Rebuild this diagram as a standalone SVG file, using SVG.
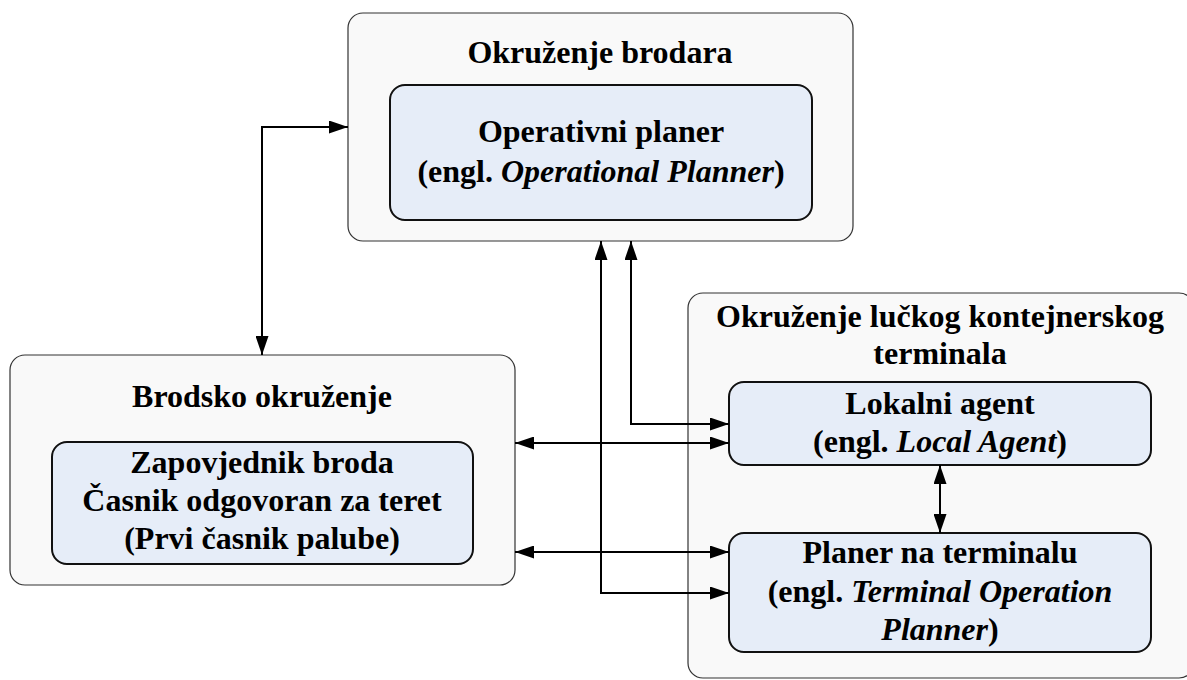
<svg xmlns="http://www.w3.org/2000/svg" width="1187" height="680" viewBox="0 0 1187 680">
<style>
.outer{fill:#f9f9f9;stroke:#333;stroke-width:1.2}
.inner{fill:#e6edf8;stroke:#111;stroke-width:2}
text{font-family:"Liberation Serif","Times New Roman",serif;font-weight:bold;font-size:32px;fill:#000;text-anchor:middle}
.it{font-style:italic}
.conn{fill:none;stroke:#000;stroke-width:2}
</style>
<defs>
<marker id="ah" markerUnits="userSpaceOnUse" markerWidth="19" markerHeight="13" refX="19" refY="6.5" orient="auto-start-reverse">
<path d="M0,0 L19,6.5 L0,13 z" fill="#000"/>
</marker>
</defs>
<rect width="1187" height="680" fill="#ffffff"/>
<g id="okruzenje-brodara">
<rect class="outer" x="348" y="13" width="505" height="228" rx="15"/>
<text x="600" y="63">Okruženje brodara</text>
</g>
<g id="operativni-planer">
<rect class="inner" x="390" y="85" width="422" height="135" rx="15"/>
<text x="601" y="142">Operativni planer</text>
<text x="601" y="182">(engl. <tspan class="it">Operational Planner</tspan>)</text>
</g>
<g id="brodsko-okruzenje">
<rect class="outer" x="10" y="355" width="505" height="230" rx="15"/>
<text x="262" y="407">Brodsko okruženje</text>
</g>
<g id="zapovjednik">
<rect class="inner" x="52" y="442" width="421" height="122" rx="15"/>
<text x="262" y="473">Zapovjednik broda</text>
<text x="262" y="511">Časnik odgovoran za teret</text>
<text x="262" y="549">(Prvi časnik palube)</text>
</g>
<g id="okruzenje-terminala">
<rect class="outer" x="688" y="293" width="506" height="385" rx="15"/>
<text x="940" y="327">Okruženje lučkog kontejnerskog</text>
<text x="940" y="364">terminala</text>
</g>
<g id="lokalni-agent">
<rect class="inner" x="729" y="382" width="422" height="83" rx="15"/>
<text x="940" y="414">Lokalni agent</text>
<text x="940" y="452">(engl. <tspan class="it">Local Agent</tspan>)</text>
</g>
<g id="planer-terminal">
<rect class="inner" x="729" y="533" width="422" height="119" rx="15"/>
<text x="940" y="563">Planer na terminalu</text>
<text x="940" y="602">(engl. <tspan class="it">Terminal Operation</tspan></text>
<text x="940" y="640"><tspan class="it">Planner</tspan>)</text>
</g>
<g id="connectors">
<path class="conn" d="M262,355 V127 H348" marker-start="url(#ah)" marker-end="url(#ah)"/>
<path class="conn" d="M515,443 H729" marker-start="url(#ah)" marker-end="url(#ah)"/>
<path class="conn" d="M515,552 H729" marker-start="url(#ah)" marker-end="url(#ah)"/>
<path class="conn" d="M601,241 V593 H729" marker-start="url(#ah)" marker-end="url(#ah)"/>
<path class="conn" d="M631,241 V424 H729" marker-start="url(#ah)" marker-end="url(#ah)"/>
<path class="conn" d="M940,465 V533" marker-start="url(#ah)" marker-end="url(#ah)"/>
</g>
</svg>
